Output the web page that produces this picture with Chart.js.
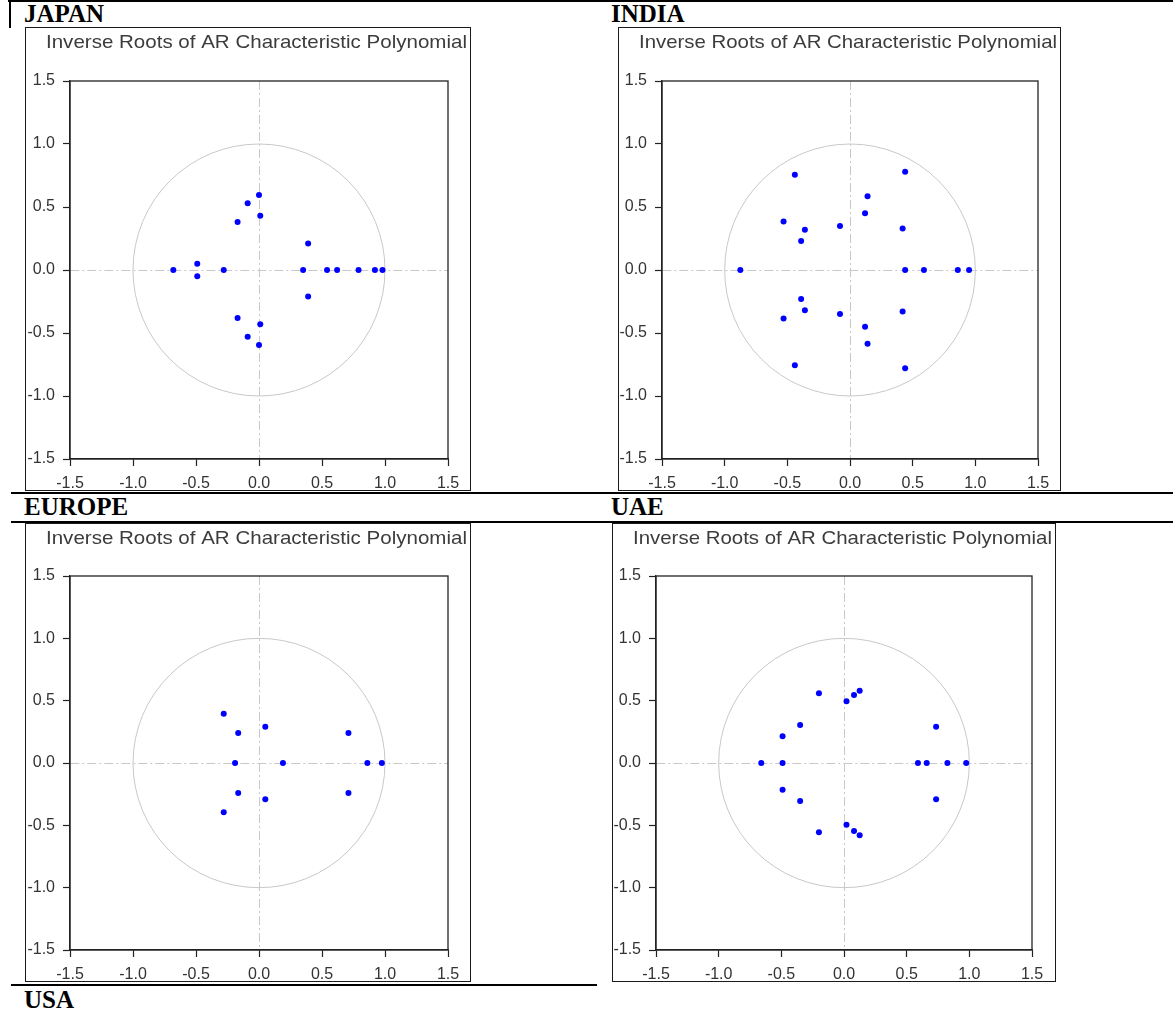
<!DOCTYPE html>
<html>
<head>
<meta charset="utf-8">
<script src="https://cdn.jsdelivr.net/npm/chart.js@4.4.0/dist/chart.umd.min.js"></script>
<style>
  body { margin: 0; background: #fff; width: 1173px; height: 1015px; position: relative; overflow: hidden; }
  .rule { position: absolute; background: #000; }
  .lbl { position: absolute; font: bold 25px "Liberation Serif", "Times New Roman", serif; line-height: 25px; color: #000; white-space: nowrap; }
  canvas { position: absolute; }
</style>
</head>
<body>
<!-- table rules around the panels -->
<div class="rule" style="left:8px;top:0;width:1165px;height:2px"></div>
<div class="rule" style="left:9px;top:0;width:2px;height:28px"></div>
<div class="rule" style="left:11px;top:492px;width:1162px;height:2px"></div>
<div class="rule" style="left:11px;top:521px;width:1162px;height:2px"></div>
<div class="rule" style="left:11px;top:984px;width:586px;height:2px"></div>

<div class="lbl" style="left:24px;top:1px">JAPAN</div>
<div class="lbl" style="left:611px;top:1px">INDIA</div>
<div class="lbl" style="left:24px;top:494px">EUROPE</div>
<div class="lbl" style="left:611px;top:494px">UAE</div>
<div class="lbl" style="left:24px;top:987px">USA</div>

<script>
// inverse AR roots: real part / imaginary part
const japanRe = [0.00, -0.09, 0.01, -0.17, 0.39, -0.68, -0.49, -0.49, -0.28, 0.35, 0.54, 0.62, 0.79, 0.92, 0.98, 0.39, -0.17, 0.01, -0.09, 0.00];
const japanIm = [0.595, 0.53, 0.43, 0.38, 0.21, 0, 0.05, -0.05, 0, 0, 0, 0, 0, 0, 0, -0.21, -0.38, -0.43, -0.53, -0.595];

const indiaRe = [-0.44, 0.44, 0.14, 0.12, -0.53, -0.36, -0.08, -0.39, 0.42, -0.875, 0.44, 0.59, 0.86, 0.95, -0.39, -0.36, -0.53, -0.08, 0.42, 0.12, 0.14, -0.44, 0.44];
const indiaIm = [0.755, 0.78, 0.585, 0.45, 0.385, 0.32, 0.35, 0.23, 0.33, 0, 0, 0, 0, 0, -0.23, -0.32, -0.385, -0.35, -0.33, -0.45, -0.585, -0.755, -0.78];

const europeRe = [-0.28, -0.165, 0.05, 0.71, -0.19, 0.19, 0.86, 0.975, -0.165, 0.05, -0.28, 0.71];
const europeIm = [0.395, 0.24, 0.29, 0.24, 0, 0, 0, 0, -0.24, -0.29, -0.395, -0.24];

const uaeRe = [-0.20, 0.02, 0.08, 0.125, -0.35, -0.49, 0.735, -0.66, -0.49, 0.59, 0.66, 0.825, 0.975, -0.49, -0.35, 0.735, -0.20, 0.02, 0.08, 0.125];
const uaeIm = [0.56, 0.495, 0.545, 0.58, 0.305, 0.215, 0.29, 0, 0, 0, 0, 0, 0, -0.215, -0.305, -0.29, -0.555, -0.495, -0.545, -0.58];

const axisMin = -1.5, axisMax = 1.5, axisStep = 0.5;
const chartTitle = 'Inverse Roots of AR Characteristic Polynomial';
const sansFamily = '"Liberation Sans", Arial, sans-serif';

const panels = [
  { re: japanRe,  im: japanIm,  x: 25,  y: 27,  w: 446, h: 464, left: 45, right: 23, top: 54, bottom: 32 },
  { re: indiaRe,  im: indiaIm,  x: 618, y: 27,  w: 443, h: 464, left: 44, right: 23, top: 54, bottom: 32 },
  { re: europeRe, im: europeIm, x: 25,  y: 523, w: 446, h: 459, left: 45, right: 23, top: 53, bottom: 32 },
  { re: uaeRe,    im: uaeIm,    x: 612, y: 523, w: 444, h: 459, left: 44, right: 24, top: 53, bottom: 32 }
];

// unit circle behind the roots, frame + title on top
const panelFrame = {
  id: 'panelFrame',
  beforeDatasetsDraw(chart) {
    const { ctx, scales: { x, y } } = chart;
    const cx = x.getPixelForValue(0), cy = y.getPixelForValue(0);
    const rx = x.getPixelForValue(1) - cx, ry = cy - y.getPixelForValue(1);
    ctx.save();
    ctx.setLineDash([]);
    ctx.strokeStyle = '#c8c8c8';
    ctx.lineWidth = 1;
    ctx.beginPath();
    ctx.ellipse(cx, cy, rx, ry, 0, 0, Math.PI * 2);
    ctx.stroke();
    ctx.restore();
  },
  afterDraw(chart) {
    const { ctx, chartArea: a, width, height } = chart;
    ctx.save();
    ctx.setLineDash([]);
    ctx.strokeStyle = '#1a1a1a';
    ctx.lineWidth = 1;
    ctx.strokeRect(0.5, 0.5, width - 1, height - 1);
    ctx.strokeStyle = '#222';
    ctx.lineWidth = 1.3;
    ctx.strokeRect(a.left, a.top, a.right - a.left, a.bottom - a.top);
    ctx.font = '19px ' + sansFamily;
    ctx.fillStyle = '#3c3c3c';
    ctx.textBaseline = 'alphabetic';
    const natural = ctx.measureText(chartTitle).width;
    const tl = 21, tr = width - 4;
    ctx.translate(tl, 21);
    ctx.scale((tr - tl) / natural, 1);
    ctx.fillText(chartTitle, 0, 0);
    ctx.restore();
  }
};

const isZero = v => Math.abs(v) < 1e-9;

function axisOptions(p, isX) {
  return {
    type: 'linear',
    min: axisMin,
    max: axisMax,
    ticks: {
      stepSize: axisStep,
      autoSkip: false,
      maxRotation: 0,
      color: '#333',
      padding: isX ? 8 : 8,
      font: { family: sansFamily, size: 16 },
      callback: v => (isZero(v) ? 0 : v).toFixed(1)
    },
    grid: {
      color: c => (c.tick && isZero(c.tick.value)) ? '#c8c8c8' : 'rgba(0,0,0,0)',
      lineWidth: 1,
      tickColor: '#222',
      tickLength: 7,
      tickWidth: 1.2
    },
    border: { display: true, color: '#222', width: 1.3, dash: [9, 3, 2, 3] },
    afterFit(scale) {
      if (isX) scale.height = p.bottom; else scale.width = p.left;
    }
  };
}

function makePanel(p) {
  const canvas = document.createElement('canvas');
  canvas.width = p.w;
  canvas.height = p.h;
  canvas.style.left = p.x + 'px';
  canvas.style.top = p.y + 'px';
  document.body.appendChild(canvas);

  const points = p.re.map((r, i) => ({ x: r, y: p.im[i] }));
  new Chart(canvas, {
    type: 'scatter',
    data: {
      datasets: [{
        data: points,
        pointStyle: 'circle',
        pointRadius: 3,
        pointHoverRadius: 3,
        backgroundColor: '#0000ff',
        borderColor: '#0000ff',
        borderWidth: 0
      }]
    },
    options: {
      responsive: false,
      animation: false,
      devicePixelRatio: 1,
      layout: { padding: { top: p.top, right: p.right, left: 0, bottom: 0 } },
      scales: { x: axisOptions(p, true), y: axisOptions(p, false) },
      plugins: { legend: { display: false }, tooltip: { enabled: false }, title: { display: false } }
    },
    plugins: [panelFrame]
  });
}

panels.forEach(makePanel);
</script>
</body>
</html>
